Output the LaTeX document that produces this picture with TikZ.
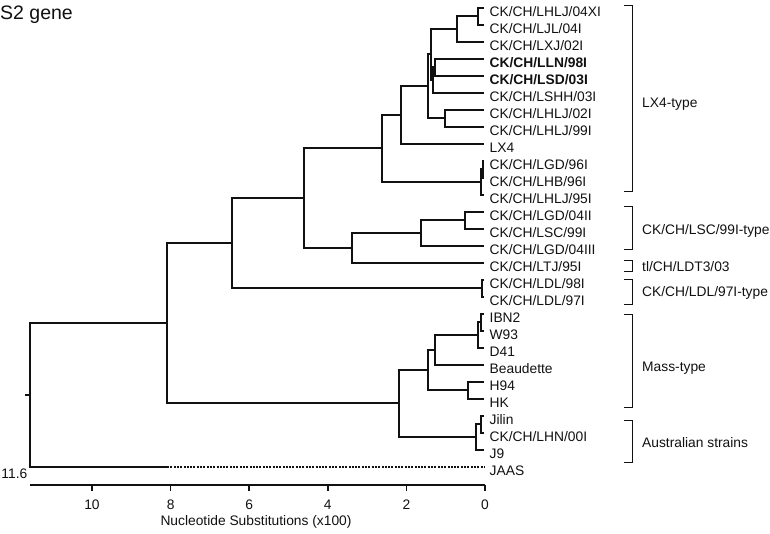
\documentclass[tikz,border=0pt]{standalone}
\usepackage{fontspec}
\setmainfont{Liberation Sans}
\definecolor{TreeInk}{HTML}{111111}

\begin{document}
\begin{tikzpicture}[x=1pt,y=-1pt,every node/.style={font=\fontsize{13.8}{16}\selectfont,text=TreeInk,inner sep=0pt},
  branch/.style={TreeInk,line width=1.5pt},bracket/.style={TreeInk,line width=1pt},jump/.style={TreeInk,line width=1.3pt,dash pattern=on 2pt off 1.3pt}]
\useasboundingbox (0,0) rectangle (770,534);
\node[anchor=base west,font=\fontsize{19.5}{22}\selectfont] (title) at (0,19.5){S2 gene};
% leaves and their labels
\foreach \t [count=\i] in {CK/CH/LHLJ/04XI,CK/CH/LJL/04I,CK/CH/LXJ/02I,{\bfseries CK/CH/LLN/98I},{\bfseries CK/CH/LSD/03I},CK/CH/LSHH/03I,CK/CH/LHLJ/02I,CK/CH/LHLJ/99I,LX4,CK/CH/LGD/96I,CK/CH/LHB/96I,CK/CH/LHLJ/95I,CK/CH/LGD/04II,CK/CH/LSC/99I,CK/CH/LGD/04III,CK/CH/LTJ/95I,CK/CH/LDL/98I,CK/CH/LDL/97I,IBN2,W93,D41,Beaudette,H94,HK,Jilin,CK/CH/LHN/00I,J9,JAAS}
  {\coordinate (l\i) at (484,{8+(\i-1)*17}); \node[anchor=base west] (t\i) at (489.5,{16.6+(\i-1)*17}){\t};}
% internal nodes
\coordinate (n1) at (478,16); \coordinate (n2) at (457,29); \coordinate (n3) at (435,67); \coordinate (n4) at (433,80);
\coordinate (n5) at (431,54); \coordinate (n6) at (445,118); \coordinate (n7) at (428,86); \coordinate (n8) at (401,115);
\coordinate (n9) at (483,169); \coordinate (n10) at (481,182); \coordinate (n11) at (382,148); \coordinate (n12) at (465,220);
\coordinate (n13) at (421,233); \coordinate (n14) at (352,248); \coordinate (n15) at (304,198); \coordinate (n16) at (482,288);
\coordinate (n17) at (232,243); \coordinate (n18) at (481,322); \coordinate (n19) at (478,335); \coordinate (n20) at (435,350);
\coordinate (n21) at (468,390); \coordinate (n22) at (428,370); \coordinate (n23) at (481,424); \coordinate (n24) at (476,437);
\coordinate (n25) at (399,403); \coordinate (n26) at (167,323); \coordinate (root) at (30,395); \coordinate (stub) at (25,395); \coordinate (js) at (167,467);
\foreach \p/\c in {n1/l1,n1/l2,n2/n1,n2/l3,n3/l4,n3/l5,n4/n3,n4/l6,n5/n2,n5/n4,n6/l7,n6/l8,n7/n5,n7/n6,n8/n7,n8/l9,n9/l10,n9/l11,n10/n9,n10/l12,n11/n8,n11/n10,
  n12/l13,n12/l14,n13/n12,n13/l15,n14/n13,n14/l16,n15/n11,n15/n14,n16/l17,n16/l18,n17/n15,n17/n16,n18/l19,n18/l20,n19/n18,n19/l21,n20/n19,n20/l22,
  n21/l23,n21/l24,n22/n20,n22/n21,n23/l25,n23/l26,n24/n23,n24/l27,n25/n22,n25/n24,n26/n17,n26/n25,root/n26,root/js}
  \draw[branch] (\p) |- (\c);
\draw[branch] (stub)--(root); \draw[jump] (js)--(l28);
% scale
\draw[branch] (30,485)--(485,485);
\foreach \d in {0,2,...,10} {\draw[branch] ({485-39.3*\d},485)--++(0,6); \node[anchor=base] (tk\d) at ({485-39.3*\d},509.5){\d};}
\node[anchor=base east] (tkmax) at (27.5,478.3){11.6};
\node[anchor=base] (axis) at (256,525.5){Nucleotide Substitutions (x100)};
% groups
\draw[bracket] (624,6)-|(632,192)--(624,192); \node[anchor=base west] (g1) at (642,108){LX4-type};
\draw[bracket] (624,207)-|(632,250)--(624,250); \node[anchor=base west] (g2) at (642,235){CK/CH/LSC/99I-type};
\draw[bracket] (624,261)-|(632,272)--(624,272); \node[anchor=base west] (g3) at (642,271.5){tl/CH/LDT3/03};
\draw[bracket] (624,280)-|(632,304)--(624,304); \node[anchor=base west] (g4) at (642,297){CK/CH/LDL/97I-type};
\draw[bracket] (624,314)-|(632,407)--(624,407); \node[anchor=base west] (g5) at (642,371){Mass-type};
\draw[bracket] (624,420)-|(632,462)--(624,462); \node[anchor=base west] (g6) at (642,447){Australian strains};
\end{tikzpicture}
\end{document}
